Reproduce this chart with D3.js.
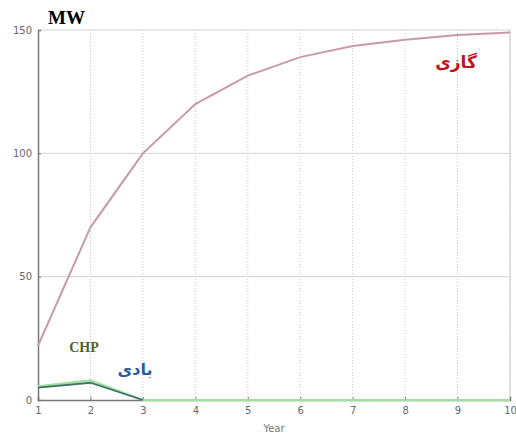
<!DOCTYPE html>
<html><head><meta charset="utf-8">
<script src="https://cdn.jsdelivr.net/npm/d3@7"></script>
<style>body{margin:0;background:#fff}</style>
</head><body><svg id="c" width="516" height="435"></svg>
<script>
const years = [1,2,3,4,5,6,7,8,9,10];
const gas = [22,70,100,120,131.5,139,143.5,146,148,149];
const chp = [5.5,8,0,0,0,0,0,0,0,0];
const wind = [5,7,0];
const xTicks = [1,2,3,4,5,6,7,8,9,10];
const yTicks = [0,50,100,150];

const svg = d3.select("#c");
const m = {l:38, r:6, t:30, b:35};
const W = 516, H = 435;
const x = d3.scaleLinear().domain([1,10]).range([m.l, W-m.r]);
const y = d3.scaleLinear().domain([0,150]).range([H-m.b, m.t]);

// grid
const g = svg.append("g");
g.selectAll(".vg").data(xTicks.slice(1)).enter().append("line")
  .attr("x1",d=>x(d)).attr("x2",d=>x(d)).attr("y1",y(0)).attr("y2",y(150))
  .attr("stroke","#c8c8c8").attr("stroke-width",1).attr("stroke-dasharray","1,2");
g.selectAll(".hg").data(yTicks.slice(1)).enter().append("line")
  .attr("x1",x(1)).attr("x2",x(10)).attr("y1",d=>y(d)).attr("y2",d=>y(d))
  .attr("stroke","#d4d4d4").attr("stroke-width",1);
// right border
g.append("line").attr("x1",x(10)).attr("x2",x(10)).attr("y1",y(0)).attr("y2",y(150))
  .attr("stroke","#c8c8c8");

// axes
const xa = svg.append("g").attr("transform",`translate(0,${y(0)})`)
  .call(d3.axisBottom(x).tickValues(xTicks).tickSize(-3).tickPadding(7).tickFormat(d3.format("d")));
const ya = svg.append("g").attr("transform",`translate(${x(1)},0)`)
  .call(d3.axisLeft(y).tickValues(yTicks).tickSize(-3).tickPadding(6));
[xa,ya].forEach(a=>{
  a.select(".domain").attr("stroke","#777").attr("stroke-width",1.5);
  a.selectAll(".tick line").attr("stroke","#777");
  a.selectAll("text").attr("fill","#666").style("font-family","DejaVu Sans, sans-serif").style("font-size","10px");
});

const line = d3.line().x((d,i)=>x(years[i])).y(d=>y(d));
svg.append("path").datum(chp).attr("d",line).attr("fill","none")
  .attr("stroke","#9be39b").attr("stroke-width",2.2);
svg.append("path").datum(wind).attr("d",line).attr("fill","none")
  .attr("stroke","#3f6f6a").attr("stroke-width",1.8);
svg.append("path").datum(gas).attr("d",line).attr("fill","none")
  .attr("stroke","#c99aa6").attr("stroke-width",2);

// labels
svg.append("rect").attr("x",44).attr("y",6).attr("width",48).attr("height",22).attr("fill","#fff");
svg.append("text").attr("x",48).attr("y",24).text("MW")
  .style("font-family","Liberation Serif, serif").style("font-weight","bold").style("font-size","19px").attr("fill","#000");
svg.append("text").attr("x",x(5.5)).attr("y",432).attr("text-anchor","middle").text("Year")
  .style("font-family","DejaVu Sans, sans-serif").style("font-size","10px").attr("fill","#777");
svg.append("text").attr("x",456).attr("y",68).attr("text-anchor","middle").text("گازی")
  .style("font-family","DejaVu Sans, sans-serif").style("font-weight","bold").style("font-size","17px").attr("fill","#c0141c");
svg.append("text").attr("x",84).attr("y",352).attr("text-anchor","middle").text("CHP")
  .style("font-family","Liberation Serif, serif").style("font-weight","bold").style("font-size","14px").attr("fill","#4f6228");
svg.append("text").attr("x",135).attr("y",375).attr("text-anchor","middle").text("بادی")
  .style("font-family","DejaVu Sans, sans-serif").style("font-weight","bold").style("font-size","16px").attr("fill","#2a5d9a");
</script></body></html>
